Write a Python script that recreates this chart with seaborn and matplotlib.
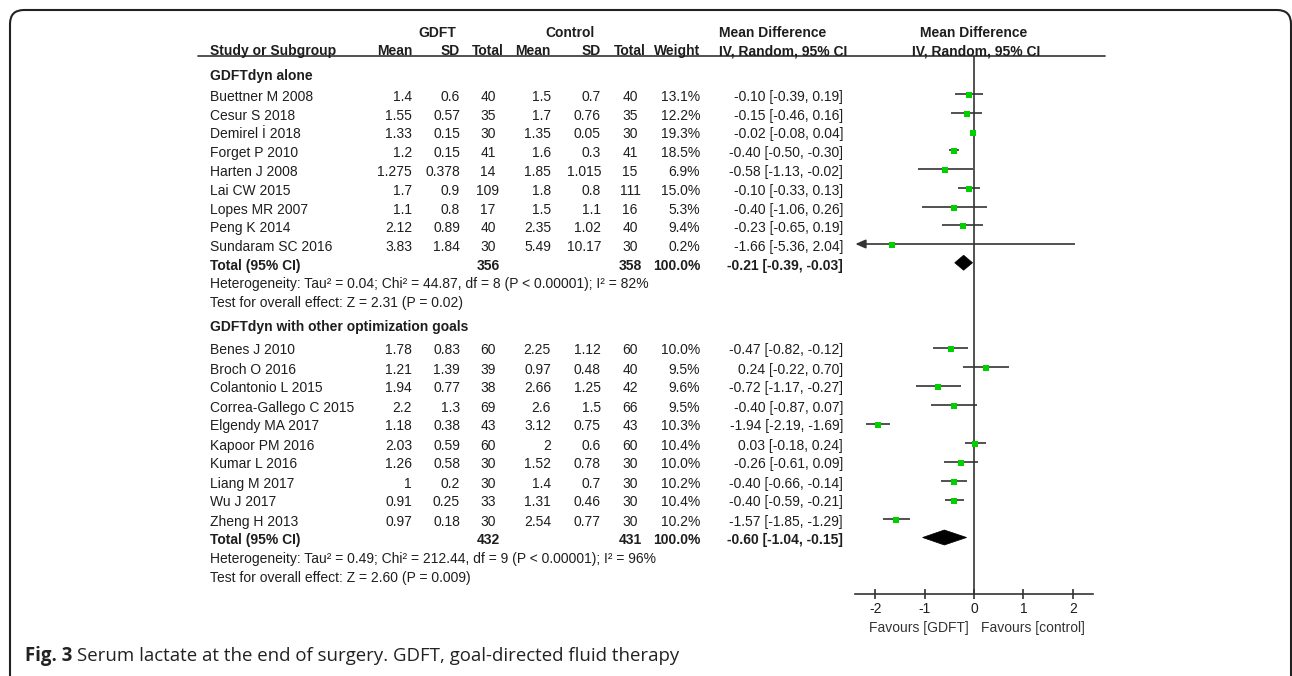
import numpy as np
import pandas as pd
import matplotlib
matplotlib.use("Agg")
import matplotlib.pyplot as plt
import matplotlib.transforms as mtransforms
from matplotlib.patches import Polygon, FancyBboxPatch
import seaborn as sns

# ---------------- data ----------------
g1_title = "GDFTdyn alone"
g1_studies = ["Buettner M 2008", "Cesur S 2018", "Demirel İ 2018", "Forget P 2010",
              "Harten J 2008", "Lai CW 2015", "Lopes MR 2007", "Peng K 2014",
              "Sundaram SC 2016"]
g1_gdft_mean = [1.4, 1.55, 1.33, 1.2, 1.275, 1.7, 1.1, 2.12, 3.83]
g1_gdft_sd = [0.6, 0.57, 0.15, 0.15, 0.378, 0.9, 0.8, 0.89, 1.84]
g1_gdft_n = [40, 35, 30, 41, 14, 109, 17, 40, 30]
g1_ctrl_mean = [1.5, 1.7, 1.35, 1.6, 1.85, 1.8, 1.5, 2.35, 5.49]
g1_ctrl_sd = [0.7, 0.76, 0.05, 0.3, 1.015, 0.8, 1.1, 1.02, 10.17]
g1_ctrl_n = [40, 35, 30, 41, 15, 111, 16, 40, 30]
g1_weight = [13.1, 12.2, 19.3, 18.5, 6.9, 15.0, 5.3, 9.4, 0.2]
g1_md = [-0.10, -0.15, -0.02, -0.40, -0.58, -0.10, -0.40, -0.23, -1.66]
g1_lo = [-0.39, -0.46, -0.08, -0.50, -1.13, -0.33, -1.06, -0.65, -5.36]
g1_hi = [0.19, 0.16, 0.04, -0.30, -0.02, 0.13, 0.26, 0.19, 2.04]
g1_total = [356, 358, -0.21, -0.39, -0.03]
g1_het = "Heterogeneity: Tau² = 0.04; Chi² = 44.87, df = 8 (P < 0.00001); I² = 82%"
g1_test = "Test for overall effect: Z = 2.31 (P = 0.02)"

g2_title = "GDFTdyn with other optimization goals"
g2_studies = ["Benes J 2010", "Broch O 2016", "Colantonio L 2015", "Correa-Gallego C 2015",
              "Elgendy MA 2017", "Kapoor PM 2016", "Kumar L 2016", "Liang M 2017",
              "Wu J 2017", "Zheng H 2013"]
g2_gdft_mean = [1.78, 1.21, 1.94, 2.2, 1.18, 2.03, 1.26, 1, 0.91, 0.97]
g2_gdft_sd = [0.83, 1.39, 0.77, 1.3, 0.38, 0.59, 0.58, 0.2, 0.25, 0.18]
g2_gdft_n = [60, 39, 38, 69, 43, 60, 30, 30, 33, 30]
g2_ctrl_mean = [2.25, 0.97, 2.66, 2.6, 3.12, 2, 1.52, 1.4, 1.31, 2.54]
g2_ctrl_sd = [1.12, 0.48, 1.25, 1.5, 0.75, 0.6, 0.78, 0.7, 0.46, 0.77]
g2_ctrl_n = [60, 40, 42, 66, 43, 60, 30, 30, 30, 30]
g2_weight = [10.0, 9.5, 9.6, 9.5, 10.3, 10.4, 10.0, 10.2, 10.4, 10.2]
g2_md = [-0.47, 0.24, -0.72, -0.40, -1.94, 0.03, -0.26, -0.40, -0.40, -1.57]
g2_lo = [-0.82, -0.22, -1.17, -0.87, -2.19, -0.18, -0.61, -0.66, -0.59, -1.85]
g2_hi = [-0.12, 0.70, -0.27, 0.07, -1.69, 0.24, 0.09, -0.14, -0.21, -1.29]
g2_total = [432, 431, -0.60, -1.04, -0.15]
g2_het = "Heterogeneity: Tau² = 0.49; Chi² = 212.44, df = 9 (P < 0.00001); I² = 96%"
g2_test = "Test for overall effect: Z = 2.60 (P = 0.009)"

x_ticks = [-2, -1, 0, 1, 2]
fav_left = "Favours [GDFT]"
fav_right = "Favours [control]"
caption_bold = "Fig. 3"
caption_rest = "Serum lactate at the end of surgery. GDFT, goal-directed fluid therapy"

# ---------------- layout ----------------
W, H = 1292, 676
sns.set_theme(style="white")
plt.rcParams['font.family'] = ['Liberation Sans', 'DejaVu Sans']
TXT = '#1e1e1e'
LINE = '#333333'
FS = 10
BL = 5  # baseline offset (px) below row centre

fig = plt.figure(figsize=(W / 100, H / 100), dpi=100)
fig.patch.set_facecolor('white')


def ftext(x, y, s, ha='left', bold=False, **kw):
    yb = round(y + BL)
    fig.text(x / W, 1 - yb / H, s, ha=ha, va='baseline', fontsize=kw.pop('fontsize', FS),
             fontweight='bold' if bold else 'normal', color=kw.pop('color', TXT), **kw)


# columns: (x, align)
C_NAME = (210, 'left')
C_GM = (412, 'right')
C_GSD = (460, 'right')
C_GN = (488, 'center')
C_CM = (551, 'right')
C_CSD = (601, 'right')
C_CN = (630, 'center')
C_W = (700, 'right')
C_CI = (843, 'right')

# headers
ftext(437, 31.7, "GDFT", ha='center', bold=True)
ftext(570, 31.7, "Control", ha='center', bold=True)
ftext(719, 31.7, "Mean Difference", bold=True)
ftext(974, 31.7, "Mean Difference", ha='center', bold=True)
for (x, a), s in [(C_NAME, "Study or Subgroup"), (C_GM, "Mean"), (C_GSD, "SD"), (C_GN, "Total"),
                  (C_CM, "Mean"), (C_CSD, "SD"), (C_CN, "Total"), (C_W, "Weight")]:
    ftext(x, 50.0, s, ha=a, bold=True)
ftext(719, 50.0, "IV, Random, 95% CI", bold=True)
ftext(976, 50.0, "IV, Random, 95% CI", ha='center', bold=True)
fig.add_artist(plt.Line2D([198 / W, 1105 / W], [1 - 56 / H, 1 - 56 / H], color=LINE, lw=1.2))

# forest axes: y in pixel rows
XL = (-2.4, 2.4)
ax = fig.add_axes([855.4 / W, 1 - 594 / H, (1092.6 - 855.4) / W, (594 - 56) / H])
ax.set_xlim(*XL)
ax.set_ylim(594, 56)
ax.patch.set_alpha(0)
for sp in ['left', 'right', 'top']:
    ax.spines[sp].set_visible(False)
ax.spines['bottom'].set_color(LINE)
ax.spines['bottom'].set_linewidth(1.2)
ax.set_xticks(x_ticks)
ax.set_xticklabels([f"{t:g}" for t in x_ticks])
ax.set_yticks([])
ax.tick_params(axis='x', direction='inout', length=7, width=1.2, color=LINE,
               labelsize=FS, labelcolor=TXT, pad=2, bottom=True)
ax.axvline(0, color=LINE, lw=1.2, zorder=1)

groups = [
    dict(title=g1_title, studies=g1_studies, gm=g1_gdft_mean, gsd=g1_gdft_sd, gn=g1_gdft_n,
         cm=g1_ctrl_mean, csd=g1_ctrl_sd, cn=g1_ctrl_n, w=g1_weight, md=g1_md, lo=g1_lo,
         hi=g1_hi, total=g1_total, het=g1_het, test=g1_test, y0=75, first=96, step=18.75),
    dict(title=g2_title, studies=g2_studies, gm=g2_gdft_mean, gsd=g2_gdft_sd, gn=g2_gdft_n,
         cm=g2_ctrl_mean, csd=g2_ctrl_sd, cn=g2_ctrl_n, w=g2_weight, md=g2_md, lo=g2_lo,
         hi=g2_hi, total=g2_total, het=g2_het, test=g2_test, y0=326, first=349.5, step=19.0),
]

pts = []
for g in groups:
    ftext(C_NAME[0], g['y0'], g['title'], bold=True)
    n = len(g['studies'])
    ys = [g['first'] + i * g['step'] for i in range(n)]
    for i, y in enumerate(ys):
        vals = [(C_NAME, g['studies'][i]), (C_GM, f"{g['gm'][i]:g}"), (C_GSD, f"{g['gsd'][i]:g}"),
                (C_GN, f"{g['gn'][i]}"), (C_CM, f"{g['cm'][i]:g}"), (C_CSD, f"{g['csd'][i]:g}"),
                (C_CN, f"{g['cn'][i]}"), (C_W, f"{g['w'][i]:.1f}%"),
                (C_CI, f"{g['md'][i]:.2f} [{g['lo'][i]:.2f}, {g['hi'][i]:.2f}]")]
        for (x, a), s in vals:
            ftext(x, y, s, ha=a)
        lo, hi = g['lo'][i], g['hi'][i]
        if lo < XL[0]:
            ax.hlines(y - 2, XL[0] + 0.06, hi, color=LINE, lw=1.2, zorder=2)
            ax.annotate("", xy=(XL[0], y - 2), xytext=(XL[0] + 0.2, y - 2),
                        arrowprops=dict(arrowstyle='-|>,head_length=0.5,head_width=0.22',
                                        color=LINE, lw=1.2, shrinkA=0, shrinkB=0))
        else:
            ax.hlines(y - 2, lo, hi, color=LINE, lw=1.2, zorder=2)
        pts.append(dict(md=g['md'][i], y=y - 1))
    yt = ys[-1] + g['step']
    tn1, tn2, tmd, tlo, thi = g['total']
    ftext(C_NAME[0], yt, "Total (95% CI)", bold=True)
    ftext(C_GN[0], yt, f"{tn1}", ha='center', bold=True)
    ftext(C_CN[0], yt, f"{tn2}", ha='center', bold=True)
    ftext(C_W[0], yt, "100.0%", ha='right', bold=True)
    ftext(C_CI[0], yt, f"{tmd:.2f} [{tlo:.2f}, {thi:.2f}]", ha='right', bold=True)
    ax.add_patch(Polygon([(tlo, yt - 2), (tmd, yt - 9.5), (thi, yt - 2), (tmd, yt + 5.5)],
                         closed=True, facecolor='black', edgecolor='black', lw=0.5, zorder=3))
    ftext(C_NAME[0], yt + 18.5, g['het'])
    ftext(C_NAME[0], yt + 37, g['test'])

df = pd.DataFrame(pts)
sns.scatterplot(data=df, x='md', y='y', marker='s', color='#00d000', s=14, linewidth=0,
                ax=ax, legend=False, zorder=4)
ax.set_xlabel("")
ax.set_ylabel("")

ftext(969, 627, fav_left, ha='right', color='#333333')
ftext(981, 627, fav_right, ha='left', color='#333333')

# panel border
border = FancyBboxPatch((10, -40), 1281, 666 + 40, boxstyle="round,pad=0,rounding_size=14",
                        transform=mtransforms.IdentityTransform(), facecolor='none',
                        edgecolor='#222222', lw=1.5)
fig.add_artist(border)

# caption
renderer = fig.canvas.get_renderer()
tb = fig.text(25 / W, 1 - 661 / H, caption_bold, ha='left', va='baseline', fontsize=13.4,
              fontweight='bold', family=['Open Sans', 'DejaVu Sans'], color='#222222')
bb = tb.get_window_extent(renderer)
fig.text((bb.x1 + 5) / W, 1 - 661 / H, caption_rest, ha='left', va='baseline', fontsize=13.4,
         family=['Open Sans', 'DejaVu Sans'], color='#222222')

fig.savefig("out.png", dpi=100, facecolor='white')
